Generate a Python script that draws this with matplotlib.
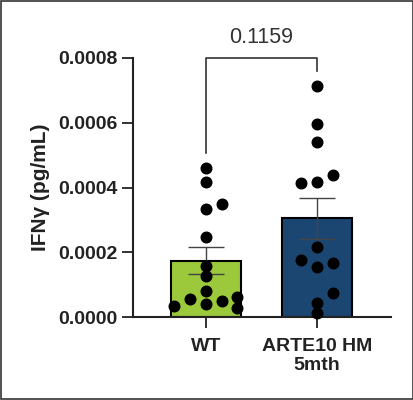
import matplotlib
matplotlib.use("Agg")
import matplotlib.pyplot as plt
import numpy as np
from matplotlib.patches import Rectangle

plt.rcParams["font.family"] = ["Liberation Sans", "DejaVu Sans"]

groups = ["WT", "ARTE10 HM\n5mth"]
wt_values = [0.000459, 0.000416, 0.000333, 0.000348, 0.000247, 0.000159,
             0.000126, 0.0000793, 0.0000556, 0.000035, 0.0000391, 0.0000494,
             0.0000628, 0.0000278]
arte_values = [0.000712, 0.000596, 0.000542, 0.000414, 0.000417, 0.00044,
               0.000215, 0.000176, 0.000155, 0.000166, 0.0000752, 0.0000443,
               0.0000113]
# horizontal jitter of the dots, in units of dot spacing
wt_jitter = [0, 0, 0, 1, 0, 0, 0, 0, -1, -2, 0, 1, 2, 2]
arte_jitter = [0, 0, 0, -1, 0, 1, 0, -1, 0, 1, 1, 0, 0]
p_value = "0.1159"
bracket_ends = [0.000506, 0.00076]

bar_colors = ["#9cc93c", "#1b4672"]
text_color = "#222222"

fig = plt.figure(figsize=(4.14, 4.0), dpi=100)
fig.add_artist(Rectangle((0.6 / 414, 0.6 / 400), 1 - 1.2 / 414, 1 - 1.2 / 400,
                         transform=fig.transFigure, fill=False,
                         edgecolor="#333333", linewidth=1.2))
ax = fig.add_axes([0.321, 0.2075, 0.623, 0.6475])

x = np.arange(len(groups))
data = [np.array(wt_values), np.array(arte_values)]
means = [d.mean() for d in data]
sems = [d.std(ddof=1) / np.sqrt(len(d)) for d in data]

ax.bar(x, means, width=0.63, color=bar_colors, edgecolor="black",
       linewidth=1.5, zorder=1)
ax.errorbar(x, means, yerr=sems, fmt="none", ecolor="#444444",
            elinewidth=1.0, capsize=13, capthick=1.0, zorder=2)

step = 0.142
for xi, vals, jit in zip(x, [wt_values, arte_values], [wt_jitter, arte_jitter]):
    ax.scatter(xi + np.array(jit) * step, vals, s=58, color="black",
               zorder=3, clip_on=False)

# significance bracket
ax.plot([0, 0, 1, 1], [bracket_ends[0], 0.0008, 0.0008, bracket_ends[1]],
        color="#333333", linewidth=1.2, clip_on=False)
ax.text(0.5, 0.000864, p_value, ha="center", va="center", fontsize=15.5,
        color="#333333")

ax.set_xlim(-0.658, 1.667)
ax.set_ylim(0, 0.0008)
ax.set_yticks([0, 0.0002, 0.0004, 0.0006, 0.0008])
ax.set_yticklabels(["0.0000", "0.0002", "0.0004", "0.0006", "0.0008"])
ax.set_xticks(x)
ax.set_xticklabels(groups)
for lab in ax.get_xticklabels() + ax.get_yticklabels():
    lab.set_fontweight("bold")
    lab.set_fontsize(14)
    lab.set_color(text_color)
ax.set_ylabel("IFNγ (pg/mL)", fontsize=15, fontweight="bold",
              color=text_color, labelpad=6)

for side in ["top", "right"]:
    ax.spines[side].set_visible(False)
for side in ["left", "bottom"]:
    ax.spines[side].set_linewidth(1.5)
    ax.spines[side].set_color("#222222")
ax.tick_params(axis="both", length=8, width=1.3, color="#222222", pad=3)
ax.tick_params(axis="x", pad=7)

fig.savefig("out.png", dpi=100)
